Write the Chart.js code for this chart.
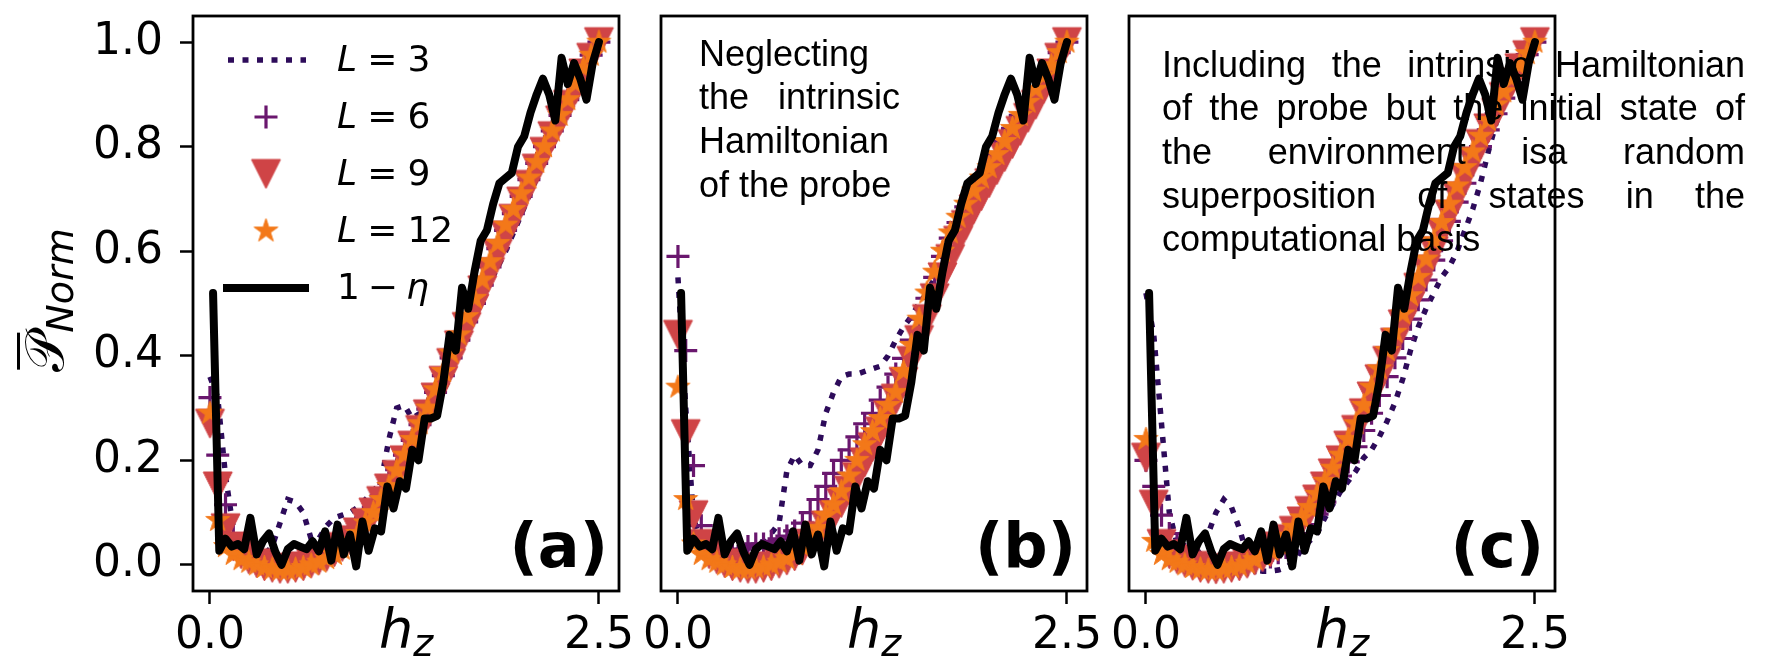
<!DOCTYPE html>
<html>
<head>
<meta charset="utf-8">
<script src="https://cdn.jsdelivr.net/npm/chart.js@4.4.0/dist/chart.umd.min.js"></script>
<style>
html, body { margin: 0; padding: 0; background: #fff; }
#fig { position: relative; width: 1765px; height: 661px; overflow: hidden; }
#fig canvas { position: absolute; left: 0; top: 0; }
</style>
</head>
<body>
<div id="fig">
  <canvas id="pa" width="1765" height="661"></canvas>
  <canvas id="pb" width="1765" height="661"></canvas>
  <canvas id="pc" width="1765" height="661"></canvas>
</div>
<script>
// h_z grid of the L curves
var hz = [0.00, 0.05, 0.10, 0.15, 0.20, 0.25, 0.30, 0.35, 0.40, 0.45,
          0.50, 0.55, 0.60, 0.65, 0.70, 0.75, 0.80, 0.85, 0.90, 0.95,
          1.00, 1.05, 1.10, 1.15, 1.20, 1.25, 1.30, 1.35, 1.40, 1.45,
          1.50, 1.55, 1.60, 1.65, 1.70, 1.75, 1.80, 1.85, 1.90, 1.95,
          2.00, 2.05, 2.10, 2.15, 2.20, 2.25, 2.30, 2.35, 2.40, 2.45, 2.50];

// h_z grid of the 1 - eta curve (same in all panels)
var hzEta = [0.02, 0.06, 0.10, 0.14, 0.18, 0.22, 0.26, 0.30, 0.34, 0.38,
             0.42, 0.46, 0.50, 0.54, 0.58, 0.62, 0.66, 0.70, 0.74, 0.78,
             0.82, 0.86, 0.90, 0.94, 0.98, 1.02, 1.06, 1.10, 1.14, 1.18,
             1.22, 1.26, 1.30, 1.34, 1.38, 1.42, 1.46, 1.50, 1.54, 1.58,
             1.62, 1.66, 1.70, 1.74, 1.78, 1.82, 1.86, 1.90, 1.94, 1.98,
             2.02, 2.06, 2.10, 2.14, 2.18, 2.22, 2.26, 2.30, 2.34, 2.38,
             2.42, 2.46, 2.50];
var oneMinusEta = [0.52, 0.027, 0.05, 0.035, 0.04, 0.03, 0.09, 0.02, 0.045, 0.06,
                   0.025, 0.0, 0.03, 0.04, 0.035, 0.03, 0.045, 0.026, 0.064, 0.008,
                   0.077, 0.02, 0.058, -0.003, 0.083, 0.027, 0.07, 0.064, 0.15, 0.108,
                   0.16, 0.146, 0.22, 0.2, 0.28, 0.28, 0.285, 0.35, 0.44, 0.41,
                   0.53, 0.49, 0.56, 0.62, 0.64, 0.69, 0.73, 0.74, 0.75, 0.80,
                   0.82, 0.865, 0.90, 0.93, 0.90, 0.85, 0.97, 0.92, 0.96, 0.93,
                   0.89, 0.96, 1.0];

// panel (a)
var aL3 = [0.36, 0.32, 0.17, 0.07, 0.035, 0.02, 0.015, 0.02, 0.035, 0.08,
           0.125, 0.12, 0.10, 0.05, 0.05, 0.075, 0.09, 0.095, 0.10, 0.11,
           0.125, 0.14, 0.16, 0.24, 0.30, 0.305, 0.28, 0.29, 0.31, 0.33,
           0.36, 0.39, 0.42, 0.45, 0.48, 0.51, 0.54, 0.57, 0.60, 0.635,
           0.67, 0.705, 0.74, 0.775, 0.81, 0.845, 0.88, 0.915, 0.95, 0.975, 1.0];
var aL6 = [0.32, 0.21, 0.115, 0.06, 0.035, 0.02, 0.01, 0.005, 0.0, -0.002,
           0.0, 0.002, 0.005, 0.01, 0.016, 0.024, 0.033, 0.044, 0.057, 0.072,
           0.09, 0.11, 0.132, 0.156, 0.182, 0.21, 0.238, 0.268, 0.298, 0.33,
           0.362, 0.396, 0.43, 0.465, 0.5, 0.535, 0.57, 0.605, 0.64, 0.672,
           0.705, 0.737, 0.768, 0.8, 0.83, 0.86, 0.89, 0.92, 0.948, 0.975, 1.0];
var aL9 = [0.27, 0.15, 0.07, 0.035, 0.02, 0.01, 0.003, -0.003, -0.006, -0.008,
           -0.008, -0.006, -0.003, 0.002, 0.008, 0.015, 0.024, 0.034, 0.047, 0.062,
           0.08, 0.10, 0.122, 0.146, 0.172, 0.2, 0.228, 0.258, 0.288, 0.32,
           0.352, 0.386, 0.42, 0.455, 0.49, 0.525, 0.56, 0.595, 0.63, 0.662,
           0.695, 0.727, 0.758, 0.79, 0.82, 0.85, 0.88, 0.91, 0.94, 0.97, 1.0];
var aL12 = [0.29, 0.085, 0.035, 0.02, 0.01, 0.005, 0.0, -0.005, -0.008, -0.01,
            -0.01, -0.008, -0.005, 0.0, 0.005, 0.012, 0.02, 0.03, 0.045, 0.06,
            0.08, 0.10, 0.125, 0.15, 0.18, 0.21, 0.24, 0.27, 0.30, 0.335,
            0.37, 0.405, 0.44, 0.475, 0.51, 0.545, 0.58, 0.615, 0.65, 0.68,
            0.71, 0.74, 0.77, 0.80, 0.83, 0.86, 0.89, 0.92, 0.95, 0.975, 1.0];

// panel (b)
var bL3 = [0.55, 0.30, 0.09, 0.04, 0.025, 0.02, 0.02, 0.025, 0.03, 0.035,
           0.04, 0.045, 0.06, 0.08, 0.18, 0.21, 0.19, 0.19, 0.22, 0.29,
           0.33, 0.36, 0.365, 0.365, 0.37, 0.375, 0.38, 0.40, 0.43, 0.455,
           0.475, 0.50, 0.52, 0.55, 0.585, 0.62, 0.65, 0.68, 0.71, 0.735,
           0.76, 0.785, 0.81, 0.835, 0.86, 0.885, 0.91, 0.935, 0.96, 0.98, 1.0];
var bL6 = [0.59, 0.41, 0.19, 0.075, 0.04, 0.03, 0.025, 0.025, 0.03, 0.035,
           0.04, 0.04, 0.045, 0.05, 0.055, 0.065, 0.08, 0.10, 0.125, 0.15,
           0.175, 0.20, 0.22, 0.245, 0.27, 0.29, 0.315, 0.34, 0.365, 0.395,
           0.43, 0.47, 0.51, 0.55, 0.59, 0.625, 0.655, 0.685, 0.71, 0.735,
           0.76, 0.785, 0.81, 0.835, 0.86, 0.885, 0.91, 0.935, 0.955, 0.98, 1.0];
var bL9 = [0.44, 0.25, 0.095, 0.04, 0.02, 0.01, 0.003, -0.003, -0.006, -0.008,
           -0.008, -0.006, -0.003, 0.002, 0.008, 0.016, 0.027, 0.04, 0.055, 0.075,
           0.095, 0.118, 0.142, 0.168, 0.196, 0.225, 0.255, 0.286, 0.318, 0.35,
           0.39, 0.43, 0.47, 0.51, 0.55, 0.585, 0.62, 0.65, 0.68, 0.705,
           0.73, 0.755, 0.78, 0.805, 0.83, 0.855, 0.88, 0.91, 0.94, 0.97, 1.0];
var bL12 = [0.34, 0.125, 0.04, 0.02, 0.01, 0.005, 0.0, -0.005, -0.008, -0.008,
            -0.006, -0.004, 0.0, 0.005, 0.012, 0.02, 0.035, 0.05, 0.07, 0.095,
            0.115, 0.14, 0.17, 0.20, 0.23, 0.255, 0.28, 0.305, 0.33, 0.37,
            0.42, 0.47, 0.52, 0.56, 0.60, 0.635, 0.665, 0.69, 0.715, 0.74,
            0.76, 0.785, 0.81, 0.835, 0.86, 0.885, 0.91, 0.935, 0.955, 0.98, 1.0];

// panel (c)
var cL3 = [0.52, 0.44, 0.27, 0.10, 0.04, 0.025, 0.02, 0.03, 0.06, 0.10,
           0.125, 0.11, 0.07, 0.02, -0.01, -0.012, -0.012, -0.01, -0.005, 0.005,
           0.03, 0.045, 0.06, 0.09, 0.115, 0.14, 0.16, 0.18, 0.205, 0.22,
           0.245, 0.275, 0.31, 0.355, 0.41, 0.455, 0.49, 0.52, 0.55, 0.57,
           0.60, 0.64, 0.68, 0.73, 0.79, 0.845, 0.88, 0.91, 0.935, 0.965, 1.0];
var cL6 = [0.20, 0.15, 0.095, 0.06, 0.035, 0.02, 0.01, 0.004, 0.0, -0.003,
           -0.004, -0.004, -0.002, 0.0, 0.004, 0.009, 0.015, 0.023, 0.033, 0.045,
           0.06, 0.077, 0.097, 0.12, 0.145, 0.17, 0.197, 0.226, 0.257, 0.29,
           0.324, 0.36, 0.396, 0.433, 0.47, 0.507, 0.545, 0.583, 0.62, 0.657,
           0.694, 0.73, 0.765, 0.80, 0.832, 0.863, 0.893, 0.922, 0.95, 0.976, 1.0];
var cL9 = [0.205, 0.115, 0.04, 0.02, 0.01, 0.004, -0.002, -0.006, -0.008, -0.009,
           -0.008, -0.006, -0.003, 0.002, 0.008, 0.015, 0.024, 0.035, 0.049, 0.065,
           0.083, 0.103, 0.125, 0.15, 0.175, 0.20, 0.228, 0.258, 0.29, 0.322,
           0.355, 0.39, 0.425, 0.46, 0.495, 0.53, 0.565, 0.60, 0.635, 0.67,
           0.705, 0.74, 0.772, 0.805, 0.835, 0.865, 0.895, 0.922, 0.95, 0.975, 1.0];
var cL12 = [0.24, 0.045, 0.02, 0.01, 0.005, 0.0, -0.005, -0.008, -0.01, -0.01,
            -0.008, -0.005, -0.002, 0.003, 0.01, 0.018, 0.028, 0.04, 0.055, 0.072,
            0.09, 0.11, 0.135, 0.16, 0.185, 0.21, 0.24, 0.27, 0.305, 0.34,
            0.375, 0.41, 0.445, 0.48, 0.515, 0.55, 0.585, 0.62, 0.655, 0.69,
            0.725, 0.76, 0.79, 0.82, 0.85, 0.88, 0.905, 0.93, 0.955, 0.978, 1.0];

var xTicks = [0, 2.5];
var yTicks = [0, 0.2, 0.4, 0.6, 0.8, 1.0];
var sizes = ["3", "6", "9", "12"];
var panelTags = ["(a)", "(b)", "(c)"];
var noteB = [["Neglecting"], ["the", "intrinsic"], ["Hamiltonian"], ["of", "the", "probe"]];
var noteC = [["Including", "the", "intrinsic", "Hamiltonian"],
             ["of", "the", "probe", "but", "the", "initial", "state", "of"],
             ["the", "environment", "isa", "random"],
             ["superposition", "of", "states", "in", "the"],
             ["computational", "basis"]];

var colL3 = '#2d0b5a', colL6 = '#6a176e', colL9 = '#cf4446', colL12 = '#f37819';

// filled marker images (matplotlib style star and down triangle)
function starCanvas(color, r) {
  var s = Math.ceil(2 * r + 4), c = document.createElement('canvas');
  c.width = c.height = s;
  var g = c.getContext('2d');
  g.translate(s / 2, s / 2);
  g.beginPath();
  for (var k = 0; k < 10; k++) {
    var rr = k % 2 ? r * 0.381966 : r;
    var ang = -Math.PI / 2 + k * Math.PI / 5;
    g.lineTo(rr * Math.cos(ang), rr * Math.sin(ang));
  }
  g.closePath();
  g.fillStyle = color; g.fill();
  g.strokeStyle = color; g.lineWidth = 1; g.stroke();
  return c;
}
function triCanvas(color, h) {
  var s = Math.ceil(2 * h + 4), c = document.createElement('canvas');
  c.width = c.height = s;
  var g = c.getContext('2d');
  g.translate(s / 2, s / 2);
  g.beginPath();
  g.moveTo(-h, -h); g.lineTo(h, -h); g.lineTo(0, h); g.closePath();
  g.fillStyle = color; g.fill();
  g.strokeStyle = color; g.lineWidth = 1; g.stroke();
  return c;
}
var starImg = starCanvas(colL12, 12.5);
var triImg = triCanvas(colL9, 14.5);

function pts(xs, ys) {
  return xs.map(function (x, i) { return { x: x, y: ys[i] }; });
}

function makeDatasets(L3, L6, L9, L12) {
  return [
    { label: '1-eta', data: pts(hzEta, oneMinusEta), showLine: true, borderColor: '#000',
      borderWidth: 8, pointRadius: 0, borderJoinStyle: 'round', borderCapStyle: 'round', order: 0, clip: 0 },
    { label: 'L=12', data: pts(hz, L12), pointStyle: starImg, pointRadius: 13, order: 1, clip: 0 },
    { label: 'L=9', data: pts(hz, L9), pointStyle: triImg, pointRadius: 15, order: 2, clip: 0 },
    { label: 'L=6', data: pts(hz, L6), pointStyle: 'cross', pointRadius: 11.5, pointBorderWidth: 3.2,
      pointBorderColor: colL6, pointBackgroundColor: colL6, order: 3, clip: 0 },
    { label: 'L=3', data: pts(hz, L3), showLine: true, borderColor: colL3, borderWidth: 5.5,
      borderDash: [6, 8.5], borderCapStyle: 'butt', pointRadius: 0, order: 4, clip: 0 }
  ];
}

function scalesFor(showY) {
  var tickGrid = { display: true, drawOnChartArea: false, drawTicks: true, tickLength: 13,
                   tickWidth: 2.5, tickColor: '#000' };
  return {
    x: {
      type: 'linear', min: -0.109, max: 2.629,
      afterBuildTicks: function (ax) { ax.ticks = xTicks.map(function (v) { return { value: v }; }); },
      afterFit: function (s) { s.height = 70; s.paddingLeft = 0; s.paddingRight = 0; },
      grid: tickGrid, border: { display: false },
      ticks: { font: { family: 'DejaVu Sans', size: 44 }, color: '#000', padding: 6,
               maxRotation: 0, autoSkip: false, callback: function (v) { return v.toFixed(1); } }
    },
    y: {
      type: 'linear', display: showY, min: -0.05, max: 1.05,
      afterBuildTicks: function (ax) { ax.ticks = yTicks.map(function (v) { return { value: v }; }); },
      afterFit: function (s) {
        s.width = showY ? 193 : 0;
        s.paddingTop = 0; s.paddingBottom = 0;
      },
      grid: tickGrid, border: { display: false },
      ticks: { font: { family: 'DejaVu Sans', size: 44 }, color: '#000', padding: 17,
               autoSkip: false, callback: function (v) { return v.toFixed(1); } }
    }
  };
}

// little math-text runs: [text, italic, space before (em)]
function drawRun(g, x, y, size, items) {
  items.forEach(function (it) {
    x += it[2] * size;
    g.font = (it[1] ? 'italic ' : '') + size + 'px "DejaVu Sans"';
    g.fillText(it[0], x, y);
    x += g.measureText(it[0]).width;
  });
}

function drawLegend(g) {
  var base = [71, 128, 185, 242, 299];
  var hm = 266, tx = 337;
  g.save();
  g.strokeStyle = colL3; g.lineWidth = 5.5; g.setLineDash([6, 8.5]); g.lineCap = 'butt';
  g.beginPath(); g.moveTo(228, base[0] - 11); g.lineTo(306, base[0] - 11); g.stroke();
  g.setLineDash([]);
  g.strokeStyle = colL6; g.lineWidth = 3.2;
  g.beginPath();
  g.moveTo(hm - 11.5, base[1] - 11); g.lineTo(hm + 11.5, base[1] - 11);
  g.moveTo(hm, base[1] - 22.5); g.lineTo(hm, base[1] + 0.5);
  g.stroke();
  g.drawImage(triImg, hm - triImg.width / 2, base[2] - 11 - triImg.height / 2);
  g.drawImage(starImg, hm - starImg.width / 2, base[3] - 11 - starImg.height / 2);
  g.strokeStyle = '#000'; g.lineWidth = 8;
  g.beginPath(); g.moveTo(223, base[4] - 11); g.lineTo(309, base[4] - 11); g.stroke();
  g.fillStyle = '#000'; g.textAlign = 'left'; g.textBaseline = 'alphabetic';
  sizes.forEach(function (n, i) {
    drawRun(g, tx, base[i], 36, [['L', 1, 0], ['=', 0, 0.28], [n, 0, 0.28]]);
  });
  drawRun(g, tx, base[4], 36, [['1', 0, 0], ['\u2212', 0, 0.22], ['\u03b7', 1, 0.22]]);
  g.restore();
}

function drawNote(g, lines, x0, x1, y0, dy) {
  g.save();
  g.font = '36px "Liberation Sans"'; g.fillStyle = '#000';
  g.textAlign = 'left'; g.textBaseline = 'alphabetic';
  var sp = g.measureText(' ').width;
  lines.forEach(function (words, k) {
    var y = y0 + k * dy;
    var w = words.map(function (t) { return g.measureText(t).width; });
    var tot = w.reduce(function (s, v) { return s + v; }, 0);
    var last = (k === lines.length - 1) || words.length === 1;
    var gap = last ? sp : (x1 - x0 - tot) / (words.length - 1);
    var x = x0;
    words.forEach(function (t, i) { g.fillText(t, x, y); x += w[i] + gap; });
  });
  g.restore();
}

function drawXLabel(g, xc, yb) {
  g.font = 'italic 54px "DejaVu Sans"'; var wh = g.measureText('h').width;
  g.font = 'italic 38px "DejaVu Sans"'; var wz = g.measureText('z').width;
  var x = xc - (wh + wz) / 2;
  g.font = 'italic 54px "DejaVu Sans"'; g.fillText('h', x, yb);
  g.font = 'italic 38px "DejaVu Sans"'; g.fillText('z', x + wh, yb + 9);
}

function drawYLabel(g, xb, yc) {
  var P = '\u{1D4AB}';
  g.save();
  g.translate(xb, yc);
  g.rotate(-Math.PI / 2);
  g.font = '54px "DejaVu Sans"'; var wP = g.measureText(P).width;
  g.font = 'italic 38px "DejaVu Sans"'; var wS = g.measureText('Norm').width;
  var x = -(wP + wS) / 2;
  g.font = '54px "DejaVu Sans"'; g.fillText(P, x, 0);
  g.fillRect(x + 2, -46, wP - 2, 3);
  g.font = 'italic 38px "DejaVu Sans"'; g.fillText('Norm', x + wP, 10);
  g.restore();
}

var deco = {
  id: 'deco',
  afterDatasetsDraw: function (chart) {
    var a = chart.chartArea, g = chart.ctx;
    g.save();
    g.lineWidth = 2.8; g.strokeStyle = '#000';
    g.strokeRect(a.left, a.top, a.right - a.left, a.bottom - a.top);
    g.restore();
  },
  afterDraw: function (chart, args, o) {
    var g = chart.ctx, a = chart.chartArea;
    g.save();
    g.fillStyle = '#000';
    g.textAlign = 'right'; g.textBaseline = 'alphabetic';
    g.font = 'bold 62px "DejaVu Sans"';
    g.fillText(o.tag, a.right - 11, 567);
    g.textAlign = 'left';
    drawXLabel(g, (a.left + a.right) / 2, 647);
    if (o.yLabel) drawYLabel(g, 63, 300);
    if (o.legend) drawLegend(g);
    if (o.note) drawNote(g, o.note, o.noteX0, o.noteX1, o.noteY0, 43.7);
    g.restore();
  }
};

function makeChart(id, sets, left, right, showY, deco_opts) {
  return new Chart(document.getElementById(id), {
    type: 'scatter',
    data: { datasets: sets },
    options: {
      responsive: false, animation: false, devicePixelRatio: 1, events: [],
      layout: { padding: { left: left, right: 1765 - right, top: 8, bottom: 0 } },
      scales: scalesFor(showY),
      plugins: { legend: { display: false }, tooltip: { enabled: false }, deco: deco_opts }
    },
    plugins: [deco]
  });
}

var chartA = makeChart('pa', makeDatasets(aL3, aL6, aL9, aL12), 0, 619, true,
  { tag: panelTags[0], yLabel: true, legend: true });
var chartB = makeChart('pb', makeDatasets(bL3, bL6, bL9, bL12), 661, 1087, false,
  { tag: panelTags[1], note: noteB, noteX0: 699, noteX1: 900, noteY0: 65.5 });
var chartC = makeChart('pc', makeDatasets(cL3, cL6, cL9, cL12), 1129, 1555, false,
  { tag: panelTags[2], note: noteC, noteX0: 1162, noteX1: 1745, noteY0: 76.5 });
</script>
</body>
</html>
